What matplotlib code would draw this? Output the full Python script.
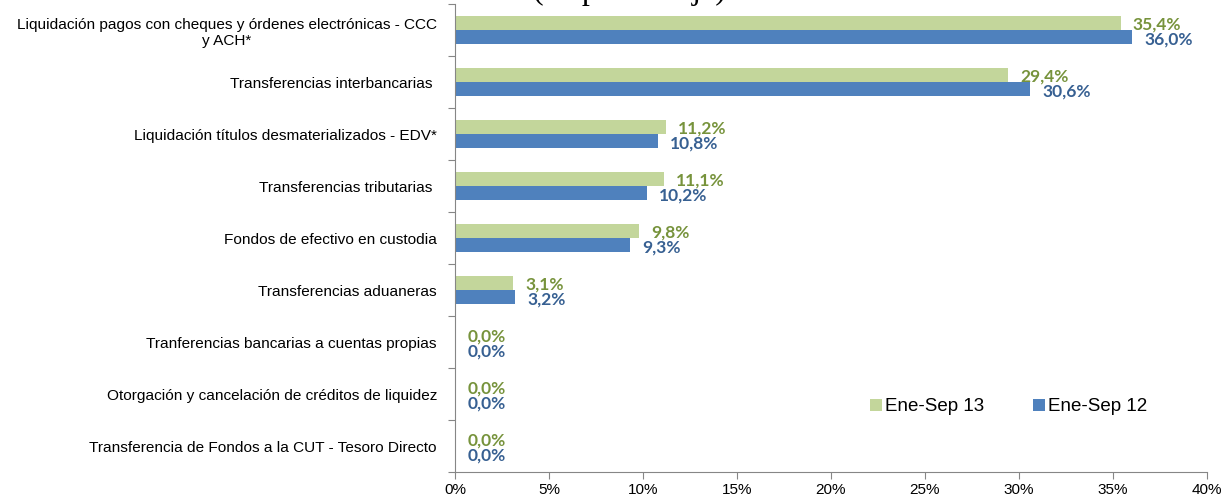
import matplotlib
matplotlib.use("Agg")
import matplotlib.pyplot as plt
import numpy as np

# datos (en porcentaje)
categorias = [
    "Liquidación pagos con cheques y órdenes electrónicas - CCC\ny ACH*",
    "Transferencias interbancarias ",
    "Liquidación títulos desmaterializados - EDV*",
    "Transferencias tributarias ",
    "Fondos de efectivo en custodia",
    "Transferencias aduaneras",
    "Tranferencias bancarias a cuentas propias",
    "Otorgación y cancelación de créditos de liquidez",
    "Transferencia de Fondos a la CUT - Tesoro Directo",
]
ene_sep_13 = [35.4, 29.4, 11.2, 11.1, 9.8, 3.1, 0.0, 0.0, 0.0]
ene_sep_12 = [36.0, 30.6, 10.8, 10.2, 9.3, 3.2, 0.0, 0.0, 0.0]
xticks = [0, 5, 10, 15, 20, 25, 30, 35, 40]

VERDE, AZUL = "#C3D69B", "#4F81BD"
VERDE_TXT, AZUL_TXT = "#77933C", "#376092"
GRIS = "#868686"

plt.rcParams["font.family"] = ["Liberation Sans", "DejaVu Sans"]
fig = plt.figure(figsize=(12.3, 4.98), dpi=100)
ax = fig.add_axes([455/1230, 1-472/498, 752/1230, 468/498])

n = len(categorias)
pos = np.arange(n)[::-1] + 0.5
h = 0.27
ax.barh(pos + h/2, ene_sep_13, height=h, color=VERDE, label="Ene-Sep 13")
ax.barh(pos - h/2, ene_sep_12, height=h, color=AZUL, label="Ene-Sep 12")

for p, v13, v12 in zip(pos, ene_sep_13, ene_sep_12):
    ax.text(v13 + 0.65, p + h/2 - 0.02, f"{v13:.1f}%".replace(".", ","), va="center",
            ha="left", color=VERDE_TXT, fontsize=12.5, fontweight="bold", family="Lato")
    ax.text(v12 + 0.65, p - h/2 - 0.04, f"{v12:.1f}%".replace(".", ","), va="center",
            ha="left", color=AZUL_TXT, fontsize=12.5, fontweight="bold", family="Lato")

ax.set_xlim(0, 40)
ax.set_ylim(0, n)
ax.set_xticks(xticks)
ax.set_xticklabels([f"{t}%" for t in xticks], fontsize=11)
ax.set_yticks(np.arange(n + 1))
ax.set_yticklabels([])
ax.set_yticks(pos, minor=True)
ax.set_yticklabels(categorias, minor=True, fontsize=11.1, multialignment="center")
ax.tick_params(axis="y", which="minor", length=0, pad=13)
ax.tick_params(axis="y", which="major", length=5, color=GRIS, direction="out")
ax.tick_params(axis="x", length=5, color=GRIS, direction="out", pad=3)
for s in ["top", "right"]:
    ax.spines[s].set_visible(False)
for s in ["left", "bottom"]:
    ax.spines[s].set_color(GRIS)

ax.legend(loc="lower left", bbox_to_anchor=(0.53, 0.085), ncol=2, frameon=False,
          fontsize=13.5, handlelength=0.6, handleheight=0.6, handletextpad=0.2,
          columnspacing=2.6)

# titulo cortado en la parte superior
fig.text(629/1230, 1 + 1/498, "(en porcentaje)", ha="center", va="baseline",
         fontsize=23, family="Liberation Serif")

fig.savefig("out.png", dpi=100)
